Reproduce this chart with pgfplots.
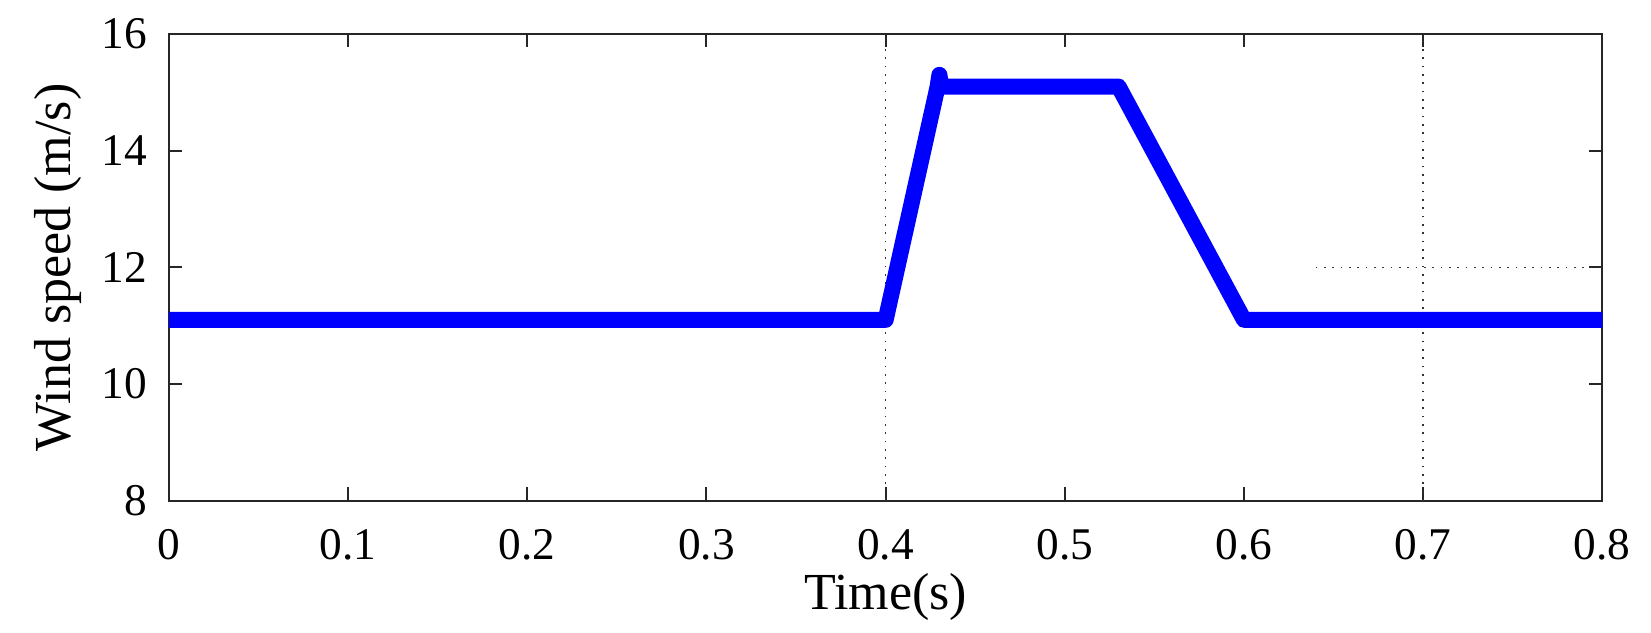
\documentclass[border=0pt]{standalone}
\usepackage{fontspec}
\setmainfont{Liberation Serif}
\usepackage{pgfplots}
\pgfplotsset{compat=1.18}

\begin{document}
\fontsize{13.3}{16}\selectfont
\begin{tikzpicture}
\begin{axis}[
    scale only axis,
    width=430pt, height=140pt,
    xmin=0, xmax=0.8, ymin=8, ymax=16,
    xtick={0,0.1,...,0.8},
    ytick={8,10,12,14,16},
    tick align=inside,
    major tick length=4pt,
    axis line style={draw=black!85, line width=0.6pt},
    every tick/.style={black!85, line width=0.6pt},
    /pgf/number format/assume math mode=true,
    xticklabel style={yshift=-4pt, font=\fontsize{13.6}{16}\selectfont},
    yticklabel style={xshift=-2pt, font=\fontsize{13.6}{16}\selectfont},
    xlabel={Time(s)},
    ylabel={Wind speed (m/s)},
    xlabel style={yshift=5pt, font=\fontsize{15.6}{18}\selectfont},
    ylabel style={yshift=-3pt, font=\fontsize{15.6}{18}\selectfont},
    clip=false,
]
% reference lines
\addplot[black!80, dotted, line width=0.5pt] coordinates {(0.4,8) (0.4,16)};
\addplot[black!80, dotted, line width=0.5pt] coordinates {(0.7,8) (0.7,16)};
\addplot[black!80, dotted, line width=0.5pt] coordinates {(0.64,12) (0.8,12)};
% wind speed
\addplot[blue, line width=4.8pt, line join=round] coordinates {
    (0,11.1) (0.4,11.1) (0.429,15.1) (0.43,15.3) (0.431,15.1)
    (0.53,15.1) (0.6,11.1) (0.8,11.1)
};
\end{axis}
\pgfresetboundingbox
\path (-50.7pt,-39.6pt) rectangle (444.6pt,150.2pt);
\end{tikzpicture}
\end{document}
